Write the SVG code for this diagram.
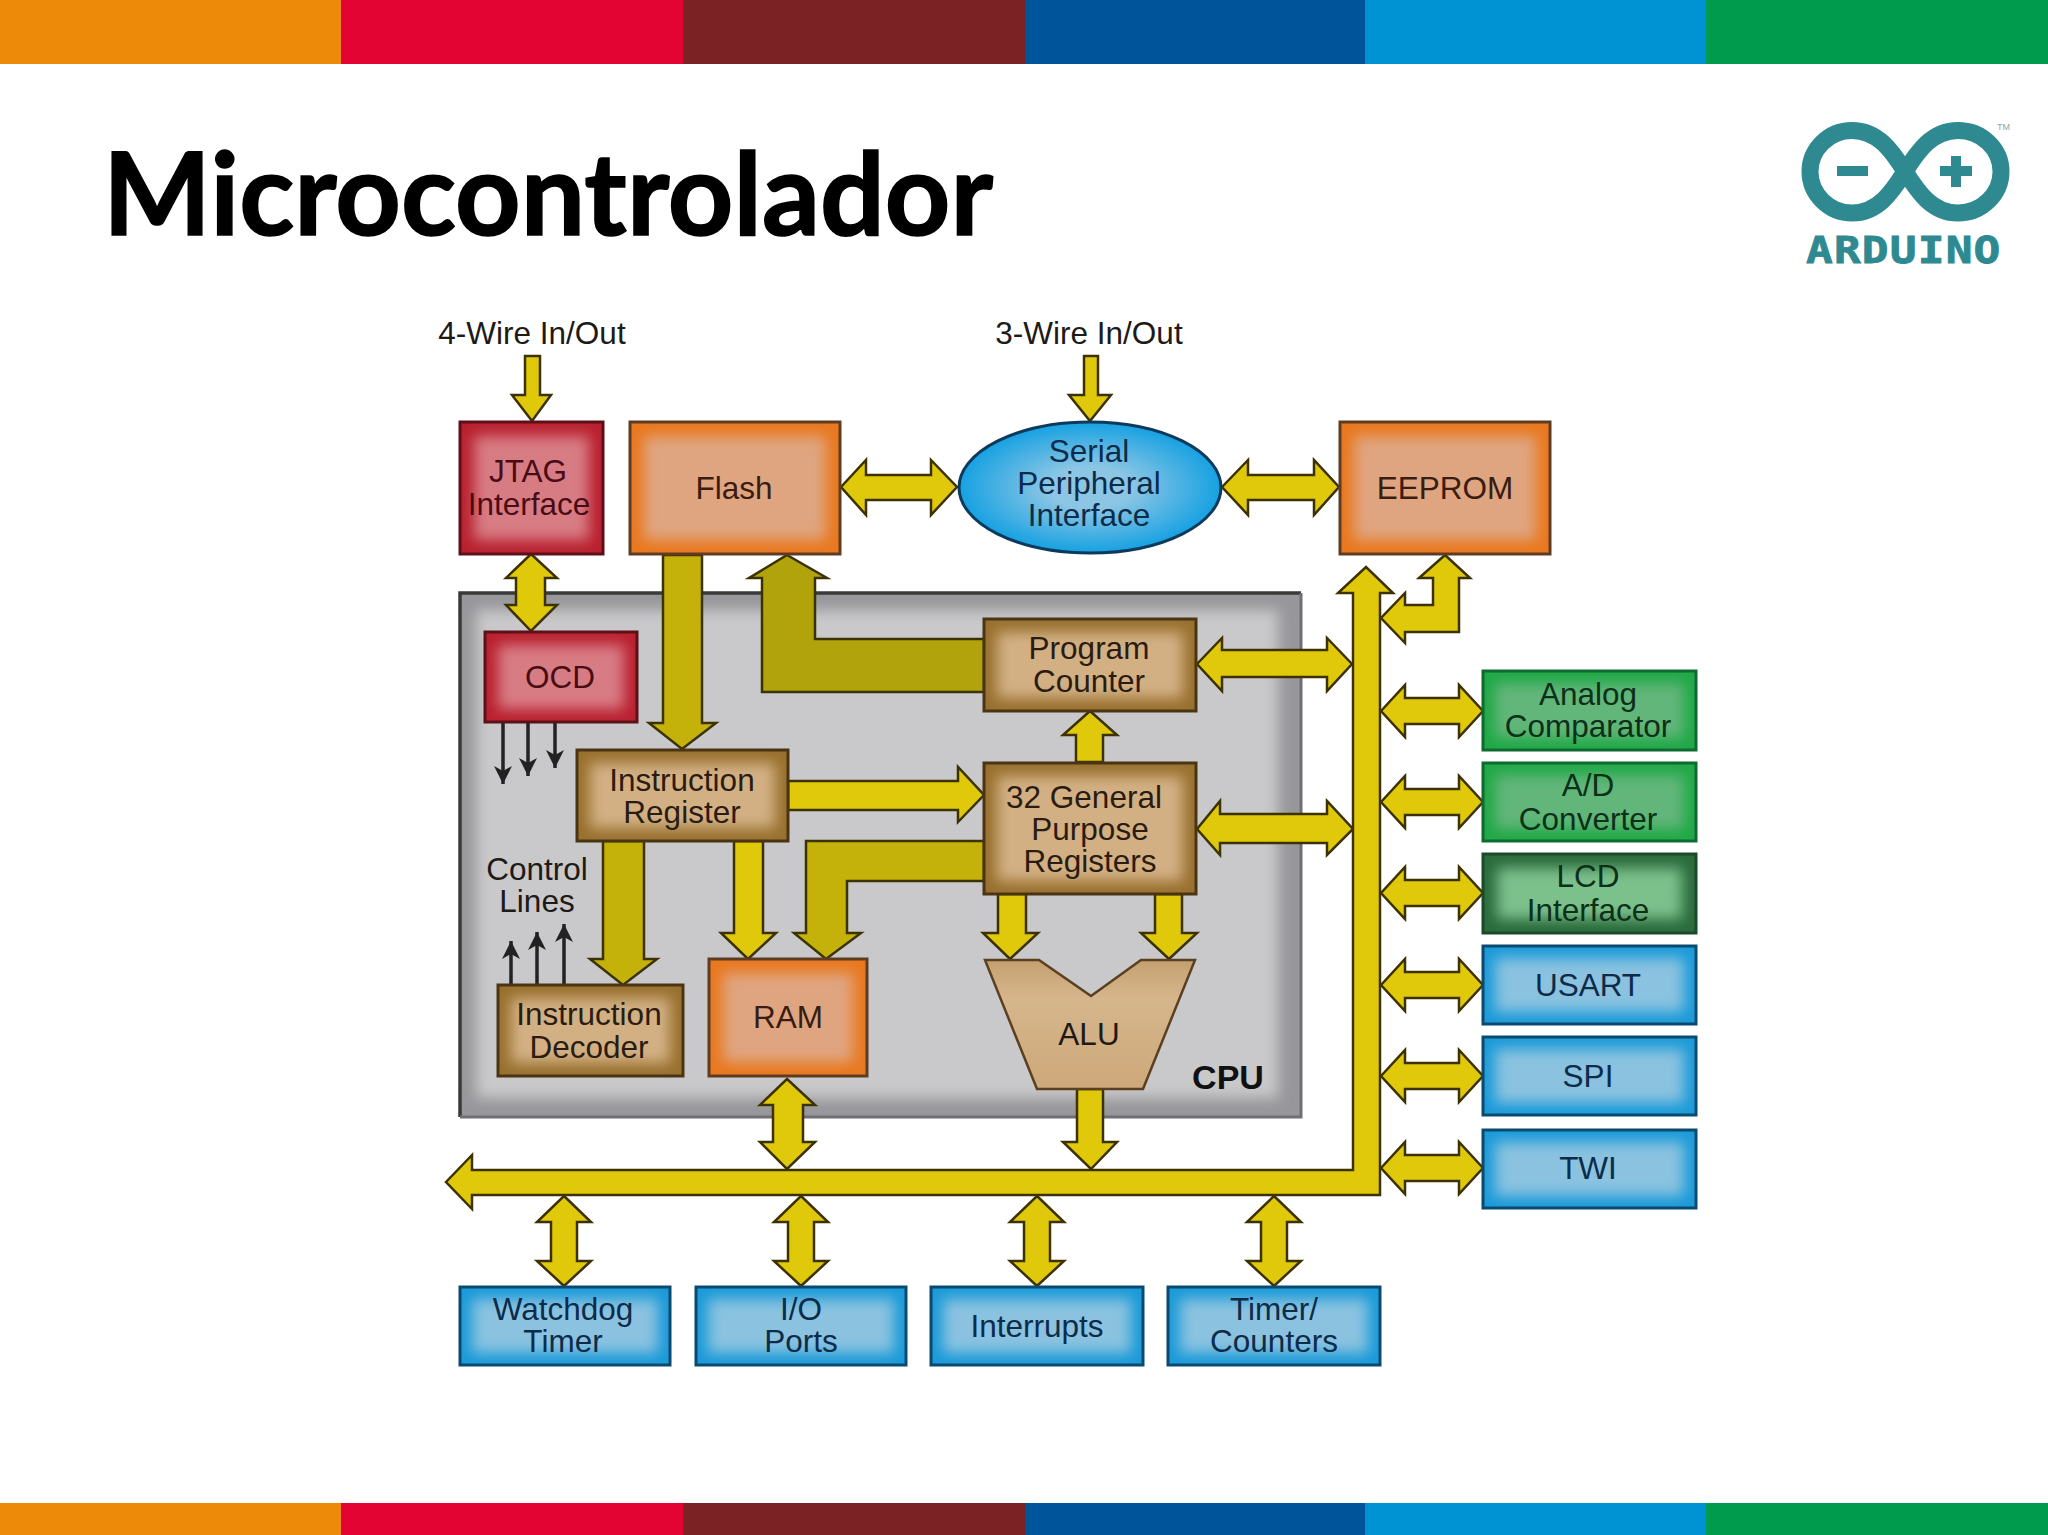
<svg xmlns="http://www.w3.org/2000/svg" width="2048" height="1535" viewBox="0 0 2048 1535">
<style>
.t{font-family:"Liberation Sans",Arial,sans-serif;font-size:31.5px;text-anchor:middle;fill:#201a16}
.c{filter:url(#soft)}
.b{fill:none;stroke-width:3}
.red .e{fill:#b9202f}.red .c{fill:#d87c84}.red .b{stroke:#5c1018}.red .t{fill:#4a0c14}
.org .e{fill:#e9781f}.org .c{fill:#dfa580}.org .b{stroke:#5e3c22}.org .t{fill:#3a1c10}
.brn .e{fill:#98702e}.brn .c{fill:#d3b084}.brn .b{stroke:#4a3414}.brn .t{fill:#2a1c10}
.grn .e{fill:#1fa846}.grn .c{fill:#62b67a}.grn .b{stroke:#0e6a30}.grn .t{fill:#0c3018}
.dgr .e{fill:#2a6b3c}.dgr .c{fill:#7cc08c}.dgr .b{stroke:#1a4a28}.dgr .t{fill:#0c3018}
.blu .e{fill:#1a9ad8}.blu .c{fill:#8ac2e0}.blu .b{stroke:#0a4a70}.blu .t{fill:#0c2c4a}
.a{stroke:#3c3200;stroke-width:2.5;stroke-linejoin:miter;fill:#e0c80a}
.a2{fill:#c4b20a}.a3{fill:#b0a30c}
.w{stroke:#222;stroke-width:3.5;fill:none;marker-end:url(#ah)}
</style>
<defs>
<filter id="soft" x="-25%" y="-25%" width="150%" height="150%"><feGaussianBlur stdDeviation="7"/></filter>
<radialGradient id="sp" cx="50%" cy="50%" r="52%"><stop offset="0.3" stop-color="#8cc6e4"/><stop offset="1" stop-color="#0f9fe2"/></radialGradient>
<linearGradient id="alu" x1="0" y1="0" x2="0" y2="1"><stop offset="0" stop-color="#c4a070"/><stop offset="0.3" stop-color="#d6b68c"/><stop offset="1" stop-color="#cda87a"/></linearGradient>
<marker id="ah" markerUnits="userSpaceOnUse" markerWidth="20" markerHeight="20" refX="18" refY="10" orient="auto"><path d="M0,1 L18,10 L0,19 L5,10Z" fill="#222"/></marker>
<polygon id="dh" points="0,0 24,-26 24,-13 78,-13 78,-26 102,0 78,26 78,13 24,13 24,26"/>
<polygon id="dv" points="0,1196 27,1222 13,1222 13,1261 27,1261 0,1286 -27,1261 -13,1261 -13,1222 -27,1222"/>
</defs>
<rect width="2048" height="1535" fill="#fff"/>
<g id="bars">
<rect x="0" y="0" width="341" height="64" fill="#ee8a0a"/><rect x="341" y="0" width="342" height="64" fill="#e30434"/><rect x="683" y="0" width="342" height="64" fill="#7b2324"/><rect x="1025" y="0" width="340" height="64" fill="#00559a"/><rect x="1365" y="0" width="341" height="64" fill="#0093d3"/><rect x="1706" y="0" width="342" height="64" fill="#009b4d"/>
<rect x="0" y="1503" width="341" height="32" fill="#ee8a0a"/><rect x="341" y="1503" width="342" height="32" fill="#e30434"/><rect x="683" y="1503" width="342" height="32" fill="#7b2324"/><rect x="1025" y="1503" width="340" height="32" fill="#00559a"/><rect x="1365" y="1503" width="341" height="32" fill="#0093d3"/><rect x="1706" y="1503" width="342" height="32" fill="#009b4d"/>
</g>
<text id="title" x="103" y="235" font-family="Lato,'Liberation Sans',sans-serif" font-weight="700" font-size="114.3" fill="#000" stroke="#000" stroke-width="1.5">Microcontrolador</text>
<g id="logo">
<path d="M1905,171.5 C1892,151 1878,130.5 1852,130.5 C1829,130.5 1810,149 1810,171.5 C1810,194 1829,213 1852,213 C1878,213 1892,192 1905,171.5 C1918,151 1932,130.5 1958,130.5 C1982,130.5 2001,149 2001,171.5 C2001,194 1982,213 1958,213 C1932,213 1918,192 1905,171.5Z" fill="none" stroke="#2e8a90" stroke-width="17"/>
<rect x="1837" y="166" width="31" height="10" fill="#2e8a90"/>
<rect x="1940" y="166" width="32" height="10" fill="#2e8a90"/><rect x="1951" y="156" width="10" height="31" fill="#2e8a90"/>
<text x="1997" y="130" font-family="'Liberation Sans',sans-serif" font-size="9" fill="#8aa6a8">TM</text>
<text transform="translate(1806,263) scale(1.2,1)" font-family="'DejaVu Sans Mono',monospace" font-weight="700" font-size="37" letter-spacing="1" fill="#2e8a90" stroke="#2e8a90" stroke-width="0.8">ARDUINO</text>
</g>
<g id="cpu">
<rect x="460" y="593" width="841" height="524" fill="#97979b"/>
<rect x="476" y="610" width="802" height="488" fill="#c9c9cb" filter="url(#soft)"/>
<path d="M460,1117 V593 H1301" fill="none" stroke="#3a3a3a" stroke-width="3.5"/>
<path d="M1301,593 V1117 H460" fill="none" stroke="#707074" stroke-width="3"/>
<text class="t" x="1228" y="1089" font-weight="700" style="font-size:34px;fill:#111">CPU</text>
</g>
<g id="labels">
<text class="t" x="532" y="344">4-Wire In/Out</text>
<text class="t" x="1089" y="344">3-Wire In/Out</text>
<text class="t" x="537" y="880">Control</text><text class="t" x="537" y="912">Lines</text>
</g>
<g id="connectors">
<polygon class="a" points="525,356 540,356 540,395 551,395 532,421 512,395 525,395"/>
<polygon class="a" points="1084,356 1098,356 1098,395 1111,395 1090,421 1069,395 1084,395"/>
<polygon class="a" points="841,487 866,460 866,475 931,475 931,460 957,487 931,515 931,500 866,500 866,515"/>
<polygon class="a" points="1222,487 1248,460 1248,475 1314,475 1314,460 1339,487 1314,515 1314,500 1248,500 1248,515"/>
<polygon class="a" points="531,554 557,578 545,578 545,605 557,605 531,631 506,605 516,605 516,578 506,578"/>
<polygon class="a a2" points="663,555 702,555 702,723 716,723 682,749 649,723 663,723"/>
<polygon class="a a3" points="787,555 827,578 815,578 815,639 984,639 984,692 762,692 762,578 749,578"/>
<polygon class="a" points="1197,664 1222,638 1222,650 1327,650 1327,638 1352,664 1327,691 1327,677 1222,677 1222,691"/>
<polygon class="a" points="1090,711 1117,735 1103,735 1103,762 1076,762 1076,735 1063,735"/>
<polygon class="a" points="788,781 958,781 958,767 984,795 958,822 958,810 788,810"/>
<polygon class="a a2" points="603,841 644,841 644,959 657,959 623,985 590,959 603,959"/>
<polygon class="a" points="734,841 763,841 763,933 776,933 748,959 721,933 734,933"/>
<polygon class="a a2" points="984,841 806,841 806,933 794,933 826,959 861,933 847,933 847,881 984,881"/>
<polygon class="a" points="998,894 1026,894 1026,933 1038,933 1010,959 983,933 998,933"/>
<polygon class="a" points="1155,894 1182,894 1182,933 1197,933 1169,959 1141,933 1155,933"/>
<polygon class="a" points="1197,829 1220,801 1220,814 1327,814 1327,801 1353,829 1327,855 1327,843 1220,843 1220,855"/>
<polygon class="a" points="787,1079 815,1105 803,1105 803,1142 815,1142 787,1169 760,1142 773,1142 773,1105 760,1105"/>
<polygon class="a" points="1077,1089 1103,1089 1103,1142 1117,1142 1091,1169 1063,1142 1077,1142"/>
<polygon class="a" points="446,1182 472,1155 472,1170 1353,1170 1353,593 1338,593 1366,567 1393,593 1380,593 1380,1195 472,1195 472,1209"/>
<polygon class="a" points="1445,555 1470,578 1459,578 1459,632 1405,632 1405,643 1381,618 1405,593 1405,605 1433,605 1433,578 1419,578"/>
<use href="#dh" class="a" x="1381" y="711"/>
<use href="#dh" class="a" x="1381" y="802"/>
<use href="#dh" class="a" x="1381" y="893"/>
<use href="#dh" class="a" x="1381" y="985"/>
<use href="#dh" class="a" x="1381" y="1076"/>
<use href="#dh" class="a" x="1381" y="1168"/>
<use href="#dv" class="a" x="564"/>
<use href="#dv" class="a" x="801"/>
<use href="#dv" class="a" x="1037"/>
<use href="#dv" class="a" x="1274"/>
<line class="w" x1="503" y1="722" x2="503" y2="784"/>
<line class="w" x1="528" y1="722" x2="528" y2="776"/>
<line class="w" x1="555" y1="722" x2="555" y2="768"/>
<line class="w" x1="511" y1="985" x2="511" y2="941"/>
<line class="w" x1="537" y1="985" x2="537" y2="932"/>
<line class="w" x1="564" y1="985" x2="564" y2="924"/>
</g>
<g id="jtag" class="red"><rect class="e" x="460" y="422" width="143" height="132"/><rect class="c" x="474" y="436" width="115" height="104"/><rect class="b" x="460" y="422" width="143" height="132"/><text class="t" x="528" y="482">JTAG</text><text class="t" x="529" y="515">Interface</text></g>
<g id="flash" class="org"><rect class="e" x="630" y="422" width="210" height="132"/><rect class="c" x="644" y="436" width="182" height="104"/><rect class="b" x="630" y="422" width="210" height="132"/><text class="t" x="734" y="499">Flash</text></g>
<g id="spi-bus"><ellipse cx="1090" cy="487.5" rx="131" ry="65.5" fill="url(#sp)" stroke="#0d3a5c" stroke-width="3"/><text class="t" x="1089" y="462" style="fill:#0c2c4a">Serial</text><text class="t" x="1089" y="494" style="fill:#0c2c4a">Peripheral</text><text class="t" x="1089" y="526" style="fill:#0c2c4a">Interface</text></g>
<g id="eeprom" class="org"><rect class="e" x="1340" y="422" width="210" height="132"/><rect class="c" x="1354" y="436" width="182" height="104"/><rect class="b" x="1340" y="422" width="210" height="132"/><text class="t" x="1445" y="499">EEPROM</text></g>
<g id="ocd" class="red"><rect class="e" x="485" y="632" width="152" height="90"/><rect class="c" x="498" y="645" width="126" height="64"/><rect class="b" x="485" y="632" width="152" height="90"/><text class="t" x="560" y="688">OCD</text></g>
<g id="pc" class="brn"><rect class="e" x="984" y="619" width="212" height="92"/><rect class="c" x="997" y="632" width="186" height="66"/><rect class="b" x="984" y="619" width="212" height="92"/><text class="t" x="1089" y="659">Program</text><text class="t" x="1089" y="692">Counter</text></g>
<g id="ir" class="brn"><rect class="e" x="577" y="750" width="211" height="91"/><rect class="c" x="590" y="763" width="185" height="65"/><rect class="b" x="577" y="750" width="211" height="91"/><text class="t" x="682" y="791">Instruction</text><text class="t" x="682" y="823">Register</text></g>
<g id="gpr" class="brn"><rect class="e" x="984" y="763" width="212" height="131"/><rect class="c" x="997" y="776" width="186" height="105"/><rect class="b" x="984" y="763" width="212" height="131"/><text class="t" x="1084" y="808">32 General</text><text class="t" x="1090" y="840">Purpose</text><text class="t" x="1090" y="872">Registers</text></g>
<g id="decoder" class="brn"><rect class="e" x="498" y="985" width="185" height="91"/><rect class="c" x="511" y="998" width="159" height="65"/><rect class="b" x="498" y="985" width="185" height="91"/><text class="t" x="589" y="1025">Instruction</text><text class="t" x="589" y="1058">Decoder</text></g>
<g id="ram" class="org"><rect class="e" x="709" y="959" width="158" height="117"/><rect class="c" x="723" y="973" width="130" height="89"/><rect class="b" x="709" y="959" width="158" height="117"/><text class="t" x="788" y="1028">RAM</text></g>
<g id="alu-unit"><polygon points="985,960 1039,960 1091,996 1141,960 1195,960 1143,1089 1037,1089" fill="url(#alu)" stroke="#5a4020" stroke-width="2.5"/><text class="t" x="1089" y="1045">ALU</text></g>
<g id="analog" class="grn"><rect class="e" x="1483" y="671" width="213" height="79"/><rect class="c" x="1495" y="683" width="189" height="55"/><rect class="b" x="1483" y="671" width="213" height="79"/><text class="t" x="1588" y="705">Analog</text><text class="t" x="1588" y="737">Comparator</text></g>
<g id="adc" class="grn"><rect class="e" x="1483" y="763" width="213" height="78"/><rect class="c" x="1495" y="775" width="189" height="54"/><rect class="b" x="1483" y="763" width="213" height="78"/><text class="t" x="1588" y="796">A/D</text><text class="t" x="1588" y="830">Converter</text></g>
<g id="lcd" class="dgr"><rect class="e" x="1483" y="854" width="213" height="79"/><rect class="c" x="1497" y="868" width="185" height="51"/><rect class="b" x="1483" y="854" width="213" height="79"/><text class="t" x="1588" y="887">LCD</text><text class="t" x="1588" y="921">Interface</text></g>
<g id="usart" class="blu"><rect class="e" x="1483" y="946" width="213" height="78"/><rect class="c" x="1495" y="958" width="189" height="54"/><rect class="b" x="1483" y="946" width="213" height="78"/><text class="t" x="1588" y="996">USART</text></g>
<g id="spi" class="blu"><rect class="e" x="1483" y="1037" width="213" height="78"/><rect class="c" x="1495" y="1049" width="189" height="54"/><rect class="b" x="1483" y="1037" width="213" height="78"/><text class="t" x="1588" y="1087">SPI</text></g>
<g id="twi" class="blu"><rect class="e" x="1483" y="1130" width="213" height="78"/><rect class="c" x="1495" y="1142" width="189" height="54"/><rect class="b" x="1483" y="1130" width="213" height="78"/><text class="t" x="1588" y="1179">TWI</text></g>
<g id="watchdog" class="blu"><rect class="e" x="460" y="1287" width="210" height="78"/><rect class="c" x="472" y="1299" width="186" height="54"/><rect class="b" x="460" y="1287" width="210" height="78"/><text class="t" x="563" y="1320">Watchdog</text><text class="t" x="563" y="1352">Timer</text></g>
<g id="io" class="blu"><rect class="e" x="696" y="1287" width="210" height="78"/><rect class="c" x="708" y="1299" width="186" height="54"/><rect class="b" x="696" y="1287" width="210" height="78"/><text class="t" x="801" y="1320">I/O</text><text class="t" x="801" y="1352">Ports</text></g>
<g id="interrupts" class="blu"><rect class="e" x="931" y="1287" width="212" height="78"/><rect class="c" x="943" y="1299" width="188" height="54"/><rect class="b" x="931" y="1287" width="212" height="78"/><text class="t" x="1037" y="1337">Interrupts</text></g>
<g id="timers" class="blu"><rect class="e" x="1168" y="1287" width="212" height="78"/><rect class="c" x="1180" y="1299" width="188" height="54"/><rect class="b" x="1168" y="1287" width="212" height="78"/><text class="t" x="1274" y="1320">Timer/</text><text class="t" x="1274" y="1352">Counters</text></g>
</svg>
